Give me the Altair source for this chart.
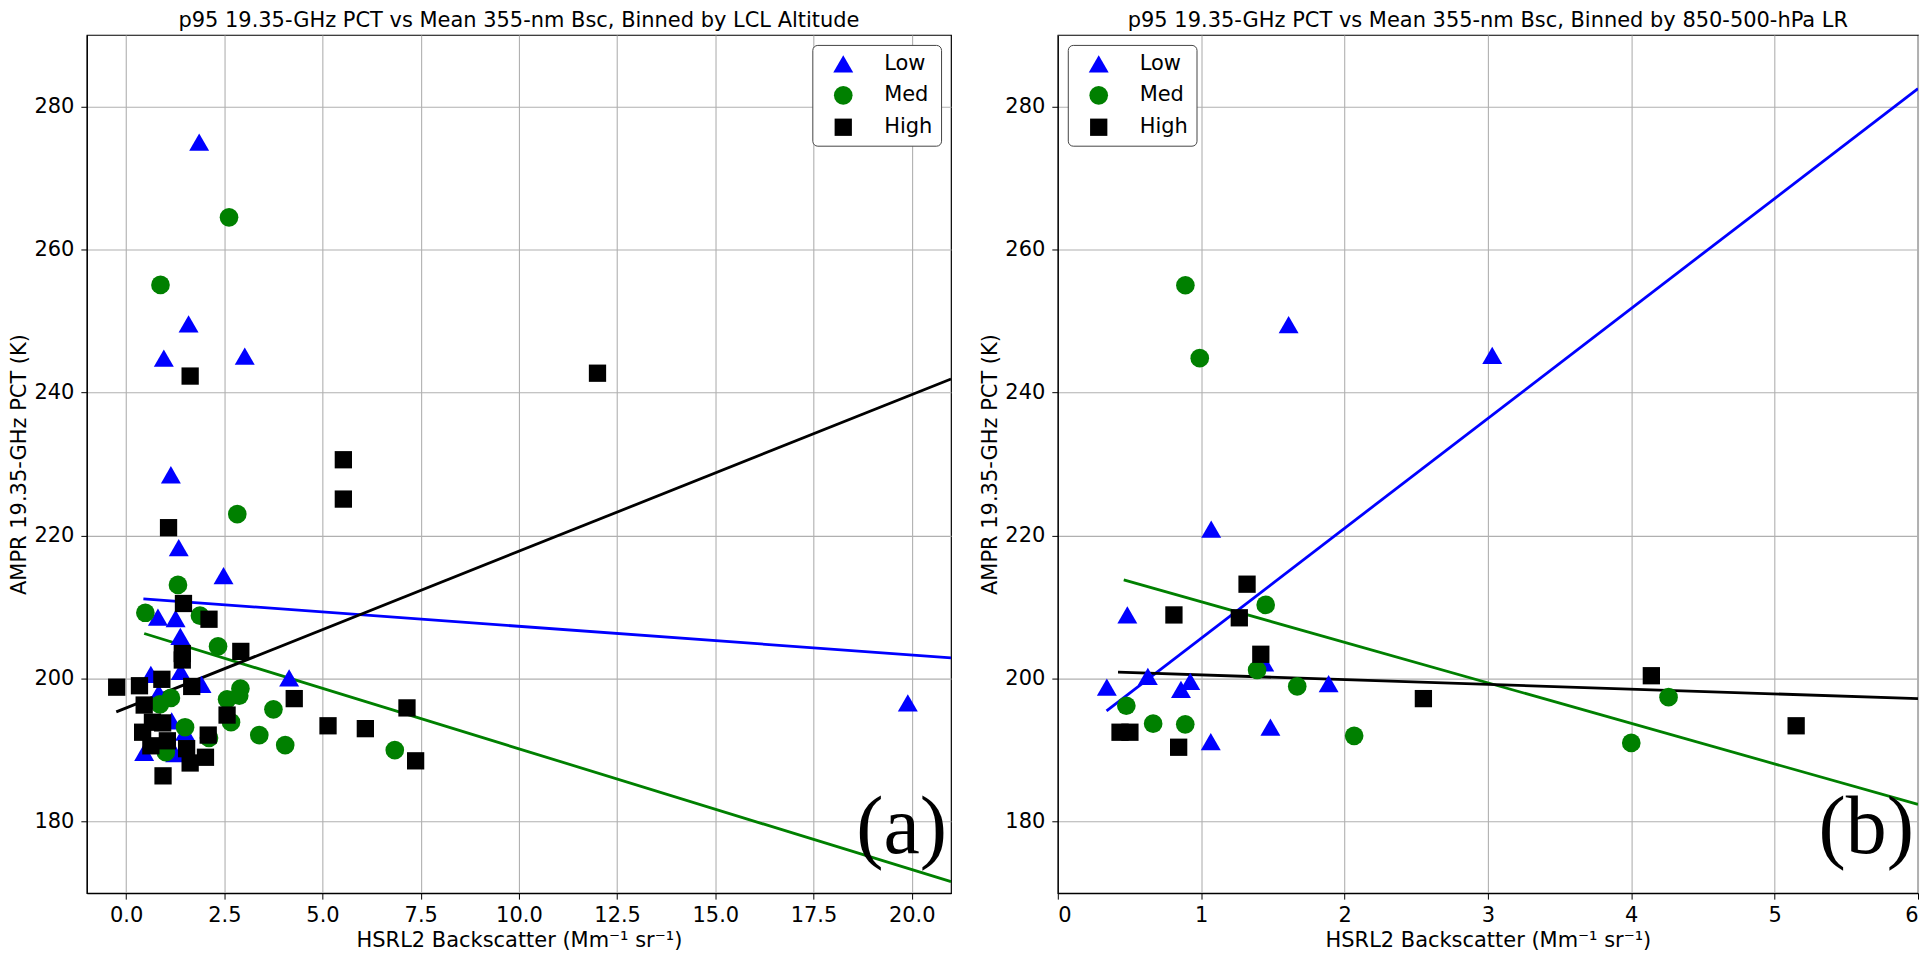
import pandas as pd
import altair as alt

# ---- data ----
groups = ["Low", "Med", "High"]
group_colors = ["#0000ff", "#008000", "#000000"]
group_shapes = ["triangle-up", "circle", "square"]
group_sizes = [400, 300, 330]

# (a) binned by LCL altitude
a_low_x = [1.86, 1.59, 0.96, 3.02, 1.14, 1.34, 2.48, 0.81, 1.26, 1.38, 0.63, 1.39,
           1.92, 4.15, 0.83, 1.16, 1.50, 0.46, 1.25, 19.9]
a_low_y = [275.0, 249.6, 244.8, 245.1, 228.5, 218.3, 214.4, 208.6, 208.4, 205.9, 200.6, 201.0,
           199.2, 200.1, 198.0, 194.1, 192.5, 189.7, 189.5, 196.6]
a_med_x = [2.62, 0.875, 2.83, 1.32, 0.49, 1.88, 2.34, 2.91, 2.88, 2.57, 1.14, 0.86,
           3.75, 2.67, 1.50, 3.39, 2.11, 4.05, 1.01, 6.84]
a_med_y = [264.5, 255.05, 223.0, 213.1, 209.2, 208.8, 204.5, 198.6, 197.6, 197.1, 197.3, 196.4,
           195.7, 193.9, 193.2, 192.1, 191.7, 190.7, 189.7, 190.0]
a_high_x = [1.63, 12.0, 5.53, 5.53, 1.08, 1.46, 2.11, 1.43, 1.43, 2.92, -0.24, 0.34,
            0.91, 1.67, 0.46, 4.28, 2.57, 0.67, 0.93, 0.42, 2.09, 0.63, 1.05, 1.54,
            2.02, 1.63, 0.94, 5.14, 6.09, 7.15, 7.37]
a_high_y = [242.3, 242.7, 230.6, 225.1, 221.1, 210.5, 208.3, 203.5, 202.6, 203.8, 198.8, 199.0,
            199.9, 198.9, 196.3, 197.2, 194.9, 193.9, 193.8, 192.5, 192.1, 190.6, 191.3, 190.2,
            189.0, 188.2, 186.4, 193.4, 193.0, 195.9, 188.5]
# fitted lines: start / end of each
a_fit_x = {"Low": [0.44, 21.0], "Med": [0.46, 21.0], "High": [-0.25, 21.0]}
a_fit_y = {"Low": [211.15, 202.9], "Med": [206.3, 171.6], "High": [195.35, 241.9]}

# (b) binned by 850-500-hPa lapse rate
b_low_x = [1.61, 3.03, 1.07, 0.485, 0.342, 0.628, 0.924, 0.859, 1.067, 1.483, 1.889, 1.44]
b_low_y = [249.5, 245.2, 220.9, 208.9, 198.8, 200.3, 199.6, 198.5, 191.2, 193.2, 199.3, 202.2]
b_med_x = [0.89, 0.99, 1.45, 1.39, 1.67, 0.478, 0.665, 0.889, 2.067, 4.0, 4.26]
b_med_y = [255.0, 244.8, 210.3, 201.2, 198.9, 196.2, 193.7, 193.6, 192.0, 191.0, 197.4]
b_high_x = [1.32, 0.81, 1.266, 1.416, 0.434, 0.503, 0.843, 2.55, 4.14, 5.15]
b_high_y = [213.2, 208.9, 208.5, 203.4, 192.5, 192.5, 190.4, 197.2, 200.4, 193.4]
b_fit_x = {"Low": [0.34, 6.0], "Med": [0.46, 6.0], "High": [0.42, 6.0]}
b_fit_y = {"Low": [195.5, 282.5], "Med": [213.8, 182.4], "High": [200.9, 197.2]}

a_xticks = [0, 2.5, 5, 7.5, 10, 12.5, 15, 17.5, 20]
b_xticks = [0, 1, 2, 3, 4, 5, 6]
yticks = [180, 200, 220, 240, 260, 280]

title_a = "p95 19.35-GHz PCT vs Mean 355-nm Bsc, Binned by LCL Altitude"
title_b = "p95 19.35-GHz PCT vs Mean 355-nm Bsc, Binned by 850-500-hPa LR"
x_title = "HSRL2 Backscatter (Mm\u207b\u00b9 sr\u207b\u00b9)"
y_title = "AMPR 19.35-GHz PCT (K)"

FONT = "DejaVu Sans"
FS = 21
H = 860


def points_frame(xs, ys):
    rows = []
    for g, x, y in zip(groups, xs, ys):
        rows += [{"grp": g, "x": a, "y": b} for a, b in zip(x, y)]
    return pd.DataFrame(rows)


def fit_frame(fx, fy):
    rows = []
    for g in groups:
        rows += [{"grp": g, "x": a, "y": b} for a, b in zip(fx[g], fy[g])]
    return pd.DataFrame(rows)


def panel(pts, fits, title, x_domain, x_ticks, x_fmt, legend_orient, tag, width):
    x_enc = alt.X("x:Q", title=x_title,
                  scale=alt.Scale(domain=x_domain, nice=False, zero=False),
                  axis=alt.Axis(values=x_ticks, format=x_fmt))
    y_enc = alt.Y("y:Q", title=y_title,
                  scale=alt.Scale(domain=[170, 290], nice=False, zero=False),
                  axis=alt.Axis(values=yticks, format="d"))
    legend = alt.Legend(title=None, orient=legend_orient, offset=10, padding=8,
                        strokeColor="#444444", fillColor="white", cornerRadius=5,
                        labelFontSize=FS, labelFont=FONT, labelColor="black",
                        symbolOffset=12, labelOffset=30, rowPadding=10)

    # one fit line per bin, fixed colour
    lines = [
        alt.Chart(fits).transform_filter(alt.datum.grp == g)
        .mark_line(color=c, strokeWidth=2.8, clip=True)
        .encode(x=x_enc, y=y_enc)
        for g, c in zip(groups, group_colors)
    ]
    dots = alt.Chart(pts).mark_point(filled=True, opacity=1).encode(
        x=x_enc, y=y_enc,
        color=alt.Color("grp:N", scale=alt.Scale(domain=groups, range=group_colors), legend=legend),
        shape=alt.Shape("grp:N", scale=alt.Scale(domain=groups, range=group_shapes), legend=legend),
        size=alt.Size("grp:N", scale=alt.Scale(domain=groups, range=group_sizes), legend=legend),
    )
    label = alt.Chart(pd.DataFrame({"tag": [tag]})).mark_text(
        font="Liberation Serif", fontSize=82, align="right", baseline="alphabetic", color="black"
    ).encode(text="tag:N", x=alt.value(width - 4), y=alt.value(H - 40))

    return alt.layer(*lines, dots, label).properties(
        width=width, height=H,
        title=alt.TitleParams(title, fontSize=FS, font=FONT, fontWeight="normal",
                              color="black", offset=4, anchor="middle"),
    )


left = panel(points_frame([a_low_x, a_med_x, a_high_x], [a_low_y, a_med_y, a_high_y]),
             fit_frame(a_fit_x, a_fit_y), title_a, [-1, 21], a_xticks, ".1f",
             "top-right", "(a)", 866)
right = panel(points_frame([b_low_x, b_med_x, b_high_x], [b_low_y, b_med_y, b_high_y]),
              fit_frame(b_fit_x, b_fit_y), title_b, [0, 6], b_xticks, "d",
              "top-left", "(b)", 862)

chart = (
    alt.hconcat(left, right, spacing=27)
    .resolve_scale(color="independent", shape="independent", size="independent")
    .properties(padding={"left": 0, "top": 0, "right": 0, "bottom": 0})
    .configure_axis(
        labelFont=FONT, titleFont=FONT, labelFontSize=FS, titleFontSize=FS,
        titleFontWeight="normal", labelColor="black", titleColor="black",
        domainColor="black", domainWidth=1.2, tickColor="black", tickSize=6,
        grid=True, gridColor="#b0b0b0", gridWidth=1.1,
    )
    .configure_axisY(labelPadding=7, titlePadding=4)
    .configure_axisX(labelPadding=5, titlePadding=4)
    .configure_view(stroke="black", strokeWidth=1.2)
)

chart.save("out.html", embed_options={"renderer": "svg", "actions": False})
